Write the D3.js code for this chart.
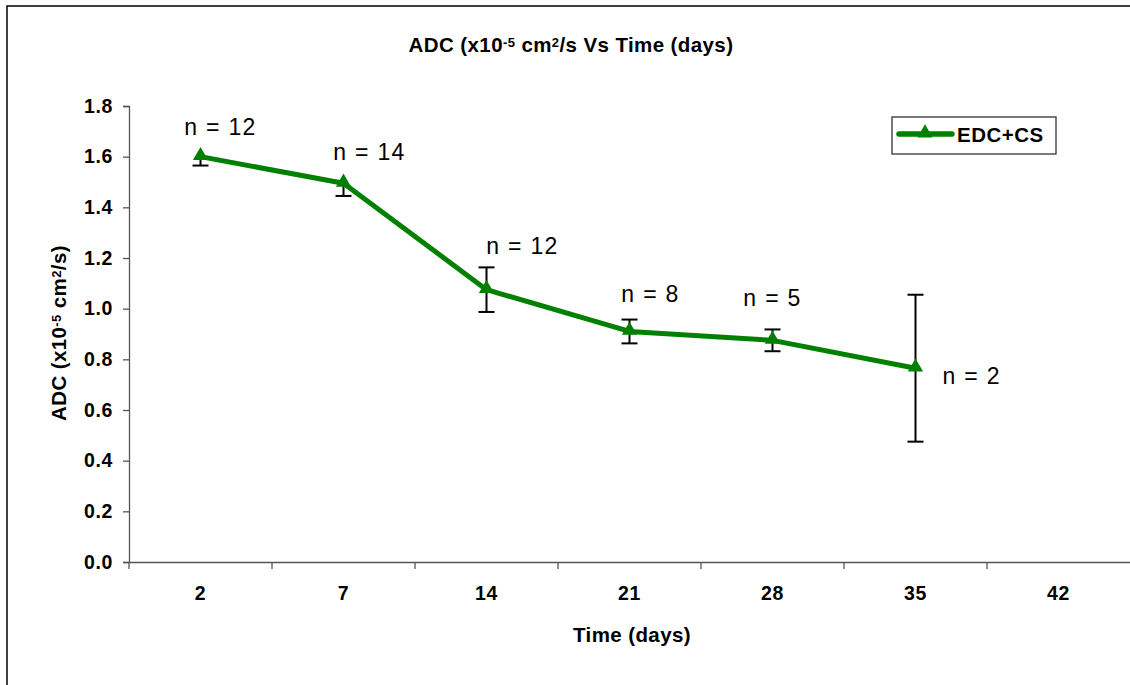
<!DOCTYPE html>
<html>
<head>
<meta charset="utf-8">
<script src="https://cdn.jsdelivr.net/npm/d3@7"></script>
<style>
  body { margin: 0; background: #fff; }
  svg { display: block; font-family: "Liberation Sans", Arial, sans-serif; }
</style>
</head>
<body>
<svg id="chart" width="1130" height="685"></svg>
<script>
// data
const days = ['2', '7', '14', '21', '28', '35', '42'];
const adc = [1.60, 1.495, 1.075, 0.91, 0.875, 0.765];
const errPlus = [0, 0, 0.088, 0.047, 0.043, 0.29];
const errMinus = [0.035, 0.05, 0.088, 0.047, 0.043, 0.29];
const nCounts = [12, 14, 12, 8, 5, 2];
const yTicks = [0, 0.2, 0.4, 0.6, 0.8, 1.0, 1.2, 1.4, 1.6, 1.8];

// where the "n = " labels sit relative to each point (pixels)
const labelOffsets = [[20, -22], [26, -23], [36, -36], [21, -29], [0, -34], [57, 16]];

const green = '#008000';
const font = '"Liberation Sans", Arial, sans-serif';
const svg = d3.select('#chart');

const x = d3.scaleBand().domain(days).range([129, 1130]).padding(0);
const y = d3.scaleLinear().domain([0, 1.8]).range([562, 106]);

const points = adc.map((v, i) => ({
  day: days[i], v, ep: errPlus[i], em: errMinus[i], n: nCounts[i], off: labelOffsets[i]
}));
const cx = d => x(d.day) + x.bandwidth() / 2;

// outer chart border
svg.append('rect')
  .attr('x', 7).attr('y', 6)
  .attr('width', 1300).attr('height', 900)
  .attr('fill', 'none').attr('stroke', '#000').attr('stroke-width', 1.5);

// title
const title = svg.append('text')
  .attr('x', 571).attr('y', 52)
  .attr('text-anchor', 'middle')
  .attr('letter-spacing', '0.4px')
  .style('font-size', '20.5px').style('font-weight', 'bold');
title.append('tspan').text('ADC (x10');
title.append('tspan').attr('baseline-shift', '40%').style('font-size', '13px').text('-5');
title.append('tspan').text(' cm');
title.append('tspan').attr('baseline-shift', '40%').style('font-size', '13px').text('2');
title.append('tspan').text('/s Vs Time (days)');

// y axis
const yAxis = svg.append('g')
  .attr('transform', 'translate(129,0)')
  .call(d3.axisLeft(y).tickValues(yTicks).tickFormat(d3.format('.1f')).tickSize(6).tickPadding(10));
yAxis.select('.domain').attr('stroke', '#555').attr('stroke-width', 1.3);
yAxis.selectAll('.tick line').attr('stroke', '#555').attr('stroke-width', 1.3);
yAxis.selectAll('.tick text')
  .style('font-size', '19.5px').style('font-weight', 'bold').style('font-family', font)
  .attr('fill', '#000').attr('letter-spacing', '0.6px');

// x axis: labels centred in each category, ticks on category boundaries
const xAxis = svg.append('g')
  .attr('transform', 'translate(0,562)')
  .call(d3.axisBottom(x).tickSize(0).tickPadding(24));
xAxis.select('.domain').attr('stroke', '#555').attr('stroke-width', 1.3);
xAxis.selectAll('.tick text')
  .style('font-size', '19.5px').style('font-weight', 'bold').style('font-family', font)
  .attr('fill', '#000').attr('letter-spacing', '0.6px');
xAxis.selectAll('line.bound')
  .data(days)
  .enter().append('line')
  .attr('class', 'bound')
  .attr('x1', d => x(d)).attr('x2', d => x(d))
  .attr('y1', 0).attr('y2', 7)
  .attr('stroke', '#555').attr('stroke-width', 1.3);

// axis titles
svg.append('text')
  .attr('x', 632).attr('y', 642)
  .attr('text-anchor', 'middle')
  .style('font-size', '20.5px').style('font-weight', 'bold')
  .attr('letter-spacing', '0.4px')
  .text('Time (days)');

const yTitle = svg.append('text')
  .attr('transform', 'translate(66,333) rotate(-90)')
  .attr('text-anchor', 'middle')
  .attr('letter-spacing', '0.4px')
  .style('font-size', '20.5px').style('font-weight', 'bold');
yTitle.append('tspan').text('ADC (x10');
yTitle.append('tspan').attr('baseline-shift', '40%').style('font-size', '13px').text('-5');
yTitle.append('tspan').text(' cm');
yTitle.append('tspan').attr('baseline-shift', '40%').style('font-size', '13px').text('2');
yTitle.append('tspan').text('/s)');

// error bars
const err = svg.append('g').attr('stroke', '#000').attr('stroke-width', 2);
points.forEach(d => {
  const px = cx(d);
  err.append('line').attr('x1', px).attr('x2', px).attr('y1', y(d.v + d.ep)).attr('y2', y(d.v - d.em));
  const caps = d.ep > 0 ? [d.v + d.ep, d.v - d.em] : [d.v - d.em];
  caps.forEach(v => {
    err.append('line').attr('x1', px - 8).attr('x2', px + 8).attr('y1', y(v)).attr('y2', y(v));
  });
});

// series line
svg.append('path')
  .datum(points)
  .attr('fill', 'none')
  .attr('stroke', green)
  .attr('stroke-width', 5)
  .attr('stroke-linejoin', 'round')
  .attr('d', d3.line().x(cx).y(d => y(d.v)));

const tri = d3.symbol().type(d3.symbolTriangle).size(100);
svg.selectAll('path.marker')
  .data(points)
  .enter().append('path')
  .attr('class', 'marker')
  .attr('transform', d => `translate(${cx(d)},${y(d.v) - 1})`)
  .attr('d', tri)
  .attr('fill', green);

// n labels
svg.selectAll('text.nlab')
  .data(points)
  .enter().append('text')
  .attr('class', 'nlab')
  .attr('x', d => cx(d) + d.off[0])
  .attr('y', d => y(d.v) + d.off[1])
  .attr('text-anchor', d => d.off[0] > 50 ? 'start' : 'middle')
  .attr('dx', d => d.off[0] > 50 ? -30 : 0)
  .style('font-size', '23px')
  .attr('letter-spacing', '1.3px')
  .text(d => 'n = ' + d.n);

// legend
const legend = svg.append('g');
legend.append('rect')
  .attr('x', 892).attr('y', 117).attr('width', 164).attr('height', 37)
  .attr('fill', '#fff').attr('stroke', '#333').attr('stroke-width', 1.3);
legend.append('line')
  .attr('x1', 899).attr('x2', 952).attr('y1', 134).attr('y2', 134)
  .attr('stroke', green).attr('stroke-width', 5.5).attr('stroke-linecap', 'round');
legend.append('path')
  .attr('transform', 'translate(925,133)')
  .attr('d', tri).attr('fill', green);
legend.append('text')
  .attr('x', 957).attr('y', 142)
  .style('font-size', '20.5px').style('font-weight', 'bold')
  .attr('letter-spacing', '0.5px')
  .text('EDC+CS');
</script>
</body>
</html>
